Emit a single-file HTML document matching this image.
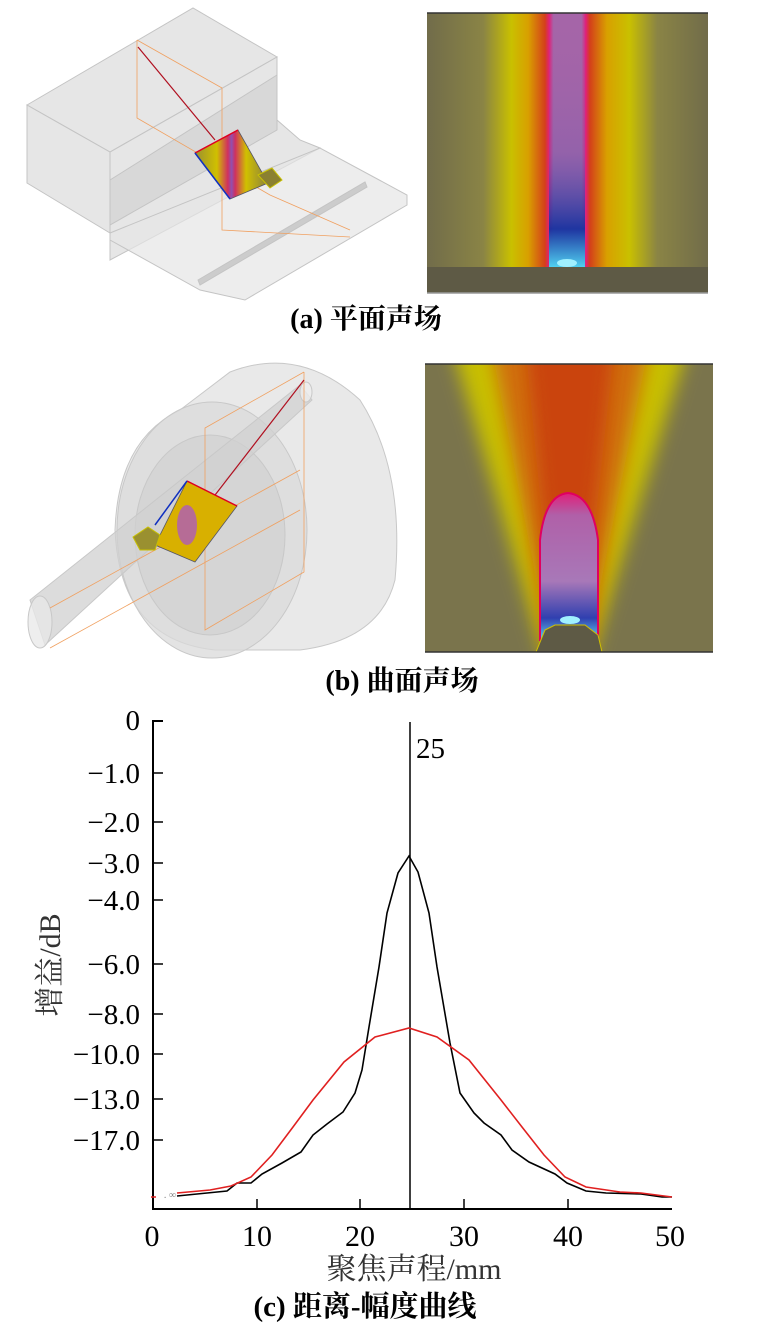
<!DOCTYPE html>
<html><head><meta charset="utf-8"><style>
html,body{margin:0;padding:0;background:#fff;}
body{width:763px;height:1328px;position:relative;overflow:hidden;}
svg{position:absolute;left:0;top:0;}
</style></head><body>
<svg width="763" height="1328" viewBox="0 0 763 1328" xmlns="http://www.w3.org/2000/svg">
<defs>
<linearGradient id="fa" x1="0" x2="1" y1="0" y2="0">
<stop offset="0" stop-color="#716c4a"/>
<stop offset="0.2" stop-color="#8a8445"/>
<stop offset="0.3" stop-color="#c9c000"/>
<stop offset="0.36" stop-color="#d8a000"/>
<stop offset="0.42" stop-color="#d4401a"/>
<stop offset="0.435" stop-color="#e0207a"/>
<stop offset="0.45" stop-color="#a565a8"/>
<stop offset="0.55" stop-color="#a565a8"/>
<stop offset="0.565" stop-color="#e0207a"/>
<stop offset="0.58" stop-color="#d4401a"/>
<stop offset="0.64" stop-color="#d8a000"/>
<stop offset="0.72" stop-color="#c9c000"/>
<stop offset="0.82" stop-color="#8a8445"/>
<stop offset="1" stop-color="#716c4a"/>
</linearGradient>
<linearGradient id="fav" x1="0" x2="0" y1="0" y2="1">
<stop offset="0" stop-color="#a565a8" stop-opacity="0"/>
<stop offset="0.55" stop-color="#6a5ab0" stop-opacity="0.3"/>
<stop offset="0.85" stop-color="#1030a0" stop-opacity="0.9"/>
<stop offset="1" stop-color="#50d0f0"/>
</linearGradient>
<linearGradient id="fbp" x1="0" x2="0" y1="0" y2="1">
<stop offset="0" stop-color="#e0207a"/>
<stop offset="0.15" stop-color="#b060a8"/>
<stop offset="0.6" stop-color="#a878b8"/>
<stop offset="0.85" stop-color="#3040b0"/>
<stop offset="1" stop-color="#60d0f0"/>
</linearGradient>
<linearGradient id="probe" x1="0" x2="1" y1="0" y2="0">
<stop offset="0" stop-color="#9a9030"/><stop offset="0.3" stop-color="#d0c000"/>
<stop offset="0.45" stop-color="#d03060"/><stop offset="0.5" stop-color="#9050b0"/>
<stop offset="0.55" stop-color="#d03060"/><stop offset="0.7" stop-color="#d0c000"/><stop offset="1" stop-color="#8a8040"/>
</linearGradient>
<filter id="bl" x="-20%" y="-20%" width="140%" height="140%"><feGaussianBlur stdDeviation="9"/></filter>
<clipPath id="cb"><rect x="425" y="364" width="288" height="288"/></clipPath>
</defs>

<!-- (a) 3D plane -->
<g stroke="#c4c4c4" stroke-width="1" fill="#dcdcdc" fill-opacity="0.7">
<polygon points="27,105 193,8 277,57 110,152"/>
<polygon points="27,105 110,152 110,233 27,183"/>
<polygon points="110,152 277,57 277,120 300,140 320,148 110,260"/>
<polygon points="110,233 320,148 407,195 407,205 245,300 200,290 110,240" fill="#e6e6e6"/>
<polygon points="110,180 277,75 277,130 110,225" fill="#cfcfcf" fill-opacity="0.6"/>
<polygon points="198,280 365,182 367,187 200,285" fill="#bdbdbd"/>
</g>
<g stroke="#f0a060" stroke-width="0.8" fill="none">
<polyline points="137,40 222,88 222,230 350,237"/>
<polyline points="137,40 137,118 270,195 350,230"/>
</g>
<line x1="138" y1="47" x2="215" y2="140" stroke="#b01020" stroke-width="1.2"/>
<polygon points="195,153 238,130 268,183 230,199" fill="url(#probe)" stroke="#556" stroke-width="0.8"/>
<line x1="195" y1="153" x2="238" y2="130" stroke="#e00020" stroke-width="1.5"/>
<line x1="195" y1="153" x2="230" y2="199" stroke="#1030c0" stroke-width="1.5"/>
<polygon points="258,175 272,168 282,180 270,188" fill="#8a8030" stroke="#c8c000"/>

<!-- (a) field -->
<rect x="427" y="13" width="281" height="254" fill="url(#fa)"/>
<rect x="549" y="13" width="36" height="254" fill="url(#fav)"/>
<ellipse cx="567" cy="263" rx="10" ry="4" fill="#a0f0ff"/>
<rect x="427" y="267" width="281" height="26" fill="#5e5a45"/>
<line x1="427" y1="13" x2="708" y2="13" stroke="#333" stroke-width="1.5"/>
<line x1="427" y1="293" x2="708" y2="293" stroke="#999" stroke-width="1.5"/>

<text x="366" y="328" text-anchor="middle" font-family="Liberation Serif,'Noto Serif CJK SC',serif" font-weight="bold" font-size="28">(a) 平面声场</text>

<!-- (b) 3D curved -->
<g stroke="#c8c8c8" stroke-width="1" fill="#e2e2e2" fill-opacity="0.75">
<path d="M230,372 Q300,345 360,400 Q405,470 395,580 Q380,640 300,650 L215,650 Q120,640 115,530 Q118,440 180,410 Z"/>
<ellipse cx="212" cy="530" rx="95" ry="128" fill="#dadada"/>
<ellipse cx="210" cy="535" rx="75" ry="100" fill="#d2d2d2"/>
<polygon points="30,600 300,385 312,400 45,645" fill="#d0d0d0"/>
<ellipse cx="40" cy="622" rx="12" ry="26" fill="#e8e8e8"/>
<ellipse cx="306" cy="392" rx="6" ry="10" fill="#eee"/>
</g>
<g stroke="#f0a060" stroke-width="0.8" fill="none">
<polyline points="304,372 205,428 205,630 304,572 304,372"/>
<line x1="50" y1="608" x2="300" y2="470"/>
<line x1="50" y1="648" x2="300" y2="510"/>
</g>
<line x1="304" y1="380" x2="205" y2="508" stroke="#b01020" stroke-width="1.2"/>
<polygon points="187,481 237,506 195,562 155,545" fill="#d8b000" stroke="#556" stroke-width="0.8"/>
<ellipse cx="187" cy="525" rx="10" ry="20" fill="#b060b0" opacity="0.85"/>
<line x1="187" y1="481" x2="237" y2="506" stroke="#e00020" stroke-width="1.5"/>
<line x1="187" y1="481" x2="155" y2="525" stroke="#1030c0" stroke-width="1.5"/>
<polygon points="133,537 148,527 160,535 155,550 140,550" fill="#9a9030" stroke="#c8c000"/>

<!-- (b) field -->
<rect x="425" y="364" width="288" height="288" fill="#7a744c"/>
<g clip-path="url(#cb)">
<polygon points="450,340 690,340 590,660 545,660" fill="#c8c000" filter="url(#bl)"/>
<polygon points="490,340 650,340 585,660 552,660" fill="#d07010" filter="url(#bl)"/>
<polygon points="525,340 615,340 580,660 556,660" fill="#c83010" filter="url(#bl)" opacity="0.7"/>
</g>
<path d="M540,640 L540,540 Q545,495 568,493 Q592,495 598,540 L598,640 Z" fill="url(#fbp)" stroke="#e00060" stroke-width="2"/>
<ellipse cx="570" cy="620" rx="10" ry="4" fill="#a0f0ff"/>
<polygon points="545,630 555,625 585,625 598,635 602,652 536,652" fill="#5e5a45" stroke="#d0c000"/>
<line x1="425" y1="364" x2="713" y2="364" stroke="#333" stroke-width="1.5"/>
<line x1="425" y1="652" x2="713" y2="652" stroke="#333" stroke-width="1.5"/>

<text x="402" y="690" text-anchor="middle" font-family="Liberation Serif,'Noto Serif CJK SC',serif" font-weight="bold" font-size="28">(b) 曲面声场</text>

<!-- (c) chart -->
<g stroke="#000" stroke-width="2" fill="none">
<polyline points="163,721 153,721 153,1209 672,1209"/>
</g>
<g stroke="#000" stroke-width="1.5">
<line x1="153" y1="773" x2="163" y2="773"/><line x1="153" y1="822" x2="163" y2="822"/>
<line x1="153" y1="863" x2="163" y2="863"/><line x1="153" y1="900" x2="163" y2="900"/>
<line x1="153" y1="964" x2="163" y2="964"/><line x1="153" y1="1014" x2="163" y2="1014"/>
<line x1="153" y1="1054" x2="163" y2="1054"/><line x1="153" y1="1099" x2="163" y2="1099"/>
<line x1="153" y1="1140" x2="163" y2="1140"/>
<line x1="257" y1="1209" x2="257" y2="1199"/><line x1="360" y1="1209" x2="360" y2="1199"/>
<line x1="464" y1="1209" x2="464" y2="1199"/><line x1="568" y1="1209" x2="568" y2="1199"/>
<line x1="410" y1="722" x2="410" y2="1209"/>
</g>
<polyline fill="none" stroke="#000" stroke-width="1.6" points="177,1196 227,1191 237,1183 251,1183 262,1174 282,1163 301,1152 313,1135 327,1124 343,1112 355,1093 362,1070 369,1027 379,967 387,913 398,873 409,856 418,872 429,913 437,967 450,1043 460,1093 474,1113 484,1123 501,1135 512,1150 529,1162 555,1174 567,1183 586,1191 606,1193 641,1194 662,1197 672,1197"/>
<polyline fill="none" stroke="#e02020" stroke-width="1.6" points="177,1193 210,1190 231,1186 251,1177 272,1155 293,1127 313,1100 344,1062 375,1037 409,1028 437,1037 469,1060 501,1100 522,1127 544,1155 565,1177 586,1187 620,1192 641,1193 672,1197"/>
<line x1="151" y1="1197" x2="156" y2="1197" stroke="#e02020" stroke-width="1.5"/>
<text x="170" y="1198" font-family="Liberation Serif,serif" font-size="10" fill="#888" text-anchor="middle">. ∞</text>

<g font-family="Liberation Serif,serif" font-size="29" text-anchor="end" fill="#000">
<text x="140" y="730">0</text>
<text x="140" y="783">−1.0</text>
<text x="140" y="832">−2.0</text>
<text x="140" y="873">−3.0</text>
<text x="140" y="910">−4.0</text>
<text x="140" y="974">−6.0</text>
<text x="140" y="1024">−8.0</text>
<text x="140" y="1064">−10.0</text>
<text x="140" y="1109">−13.0</text>
<text x="140" y="1150">−17.0</text>
</g>
<text x="416" y="758" font-family="Liberation Serif,serif" font-size="29">25</text>
<g font-family="Liberation Serif,serif" font-size="30" text-anchor="middle">
<text x="152" y="1246">0</text><text x="257" y="1246">10</text><text x="360" y="1246">20</text>
<text x="464" y="1246">30</text><text x="568" y="1246">40</text><text x="670" y="1246">50</text>
</g>
<text x="414" y="1279" text-anchor="middle" font-family="Liberation Serif,'Noto Serif CJK SC',serif" font-size="30" fill="#333">聚焦声程/mm</text>
<text transform="translate(60,965) rotate(-90)" text-anchor="middle" font-family="Liberation Serif,'Noto Serif CJK SC',serif" font-size="30" fill="#333">增益/dB</text>
<text x="365" y="1316" text-anchor="middle" font-family="Liberation Serif,'Noto Serif CJK SC',serif" font-weight="bold" font-size="29">(c) 距离-幅度曲线</text>
</svg>
</body></html>
